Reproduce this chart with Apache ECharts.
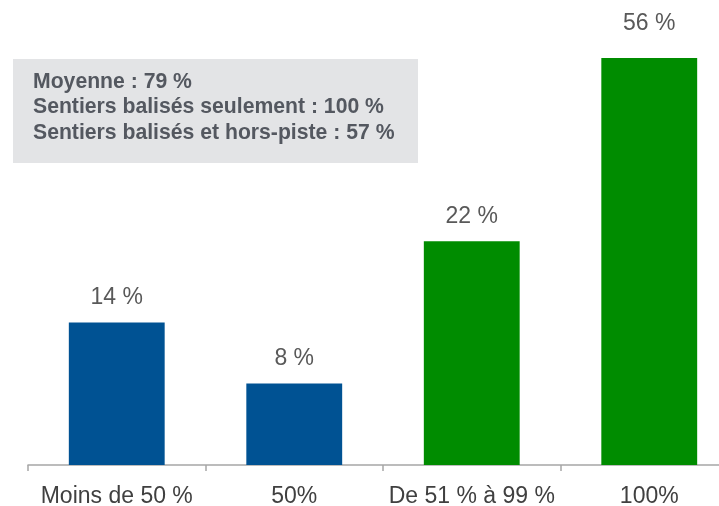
<!DOCTYPE html>
<html><head><meta charset="utf-8">
<script src="https://cdn.jsdelivr.net/npm/echarts@6/dist/echarts.min.js"></script>
<style>html,body{margin:0;padding:0;background:#fff}#c{width:719px;height:506px}</style>
</head><body><div id="c"></div>
<script>
var categories = ['Moins de 50 %', '50%', 'De 51 % à 99 %', '100%'];
var values = [14, 8, 22, 56];
var colors = ['#005293', '#005293', '#008c00', '#008c00'];
var noteLines = ['Moyenne : 79 %', 'Sentiers balisés seulement : 100 %', 'Sentiers balisés et hors-piste : 57 %'];

var chart = echarts.init(document.getElementById('c'));
chart.setOption({
  animation: false,
  grid: { left: 28, width: 710, top: 58, height: 407, containLabel: false, outerBoundsMode: 'none' },
  xAxis: {
    type: 'category', data: categories,
    axisLine: { lineStyle: { color: '#a6a6a6', width: 1.5 } },
    axisTick: { show: true, length: 6, lineStyle: { color: '#a6a6a6', width: 1.5 } },
    axisLabel: { margin: 20, fontSize: 23, color: '#404040', fontFamily: 'Liberation Sans, Arial', interval: 0 }
  },
  yAxis: { type: 'value', min: 0, max: 40, show: false, splitLine: { show: false } },
  series: [{
    type: 'bar', barWidth: '54%', clip: true,
    data: values.map(function (v, i) {
      var d = { value: v, itemStyle: { color: colors[i] } };
      if (v > 40) d.label = { distance: 23 };
      return d;
    }),
    label: {
      show: true, position: 'top', distance: 13, fontSize: 23, color: '#595959',
      fontFamily: 'Liberation Sans, Arial', formatter: '{c} %'
    }
  }],
  graphic: [
    { type: 'rect', shape: { x: 13, y: 59, width: 405, height: 104 }, style: { fill: '#e3e4e6' } },
    { type: 'text', left: 33, top: 69, style: {
      text: noteLines.join('\n'), fill: '#545860', fontSize: 21.2, fontWeight: 'bold',
      fontFamily: 'Liberation Sans, Arial', lineHeight: 25.5 } }
  ]
});
</script></body></html>
